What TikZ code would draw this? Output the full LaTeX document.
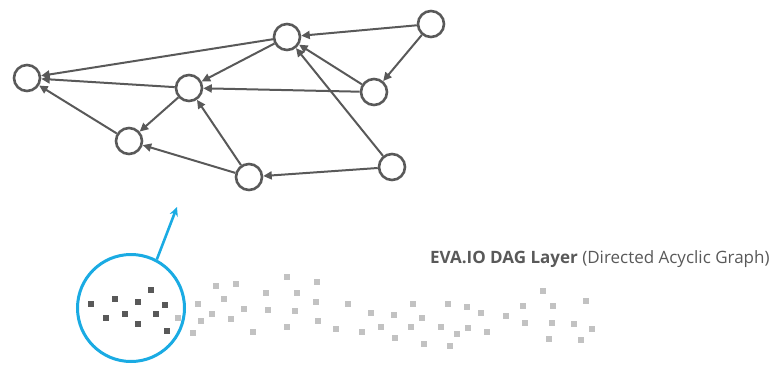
\documentclass[tikz,border=0pt]{standalone}
\usepackage{fontspec}
\setmainfont{Open Sans}
\usepackage{tikz}
\usetikzlibrary{arrows.meta,positioning}
\definecolor{daggray}{HTML}{595959}
\definecolor{dotgray}{HTML}{C2C2C2}
\definecolor{lensblue}{HTML}{1AABE3}

\begin{document}
\begin{tikzpicture}[x=1pt,y=-1pt]
\tikzstyle{vertex}=[draw=daggray, circle, line width=2.6pt, minimum size=26pt, inner sep=0pt]
\tikzstyle{edge}=[draw=daggray, line width=2pt, -{Triangle[length=8.5pt,width=8pt]}]
\tikzstyle{lens}=[draw=lensblue, circle, line width=3pt, minimum size=107pt, inner sep=0pt]
\useasboundingbox (0,0) rectangle (777,365);
% DAG
\node [vertex] (v1) at (27,78) {};
\node [vertex] (v2) at (287,37) {};
\node [vertex] (v3) at (431,24) {};
\node [vertex] (v4) at (189,88) {};
\node [vertex] (v5) at (374,92) {};
\node [vertex] (v6) at (129,141) {};
\node [vertex] (v7) at (249,177) {};
\node [vertex] (v8) at (392,167) {};
\draw [edge] (v2) -- (v1);
\draw [edge] (v3) -- (v2);
\draw [edge] (v3) -- (v5);
\draw [edge] (v2) -- (v4);
\draw [edge] (v4) -- (v1);
\draw [edge] (v5) -- (v4);
\draw [edge] (v5) -- (v2);
\draw [edge] (v8) -- (v2);
\draw [edge] (v4) -- (v6);
\draw [edge] (v6) -- (v1);
\draw [edge] (v7) -- (v6);
\draw [edge] (v7) -- (v4);
\draw [edge] (v8) -- (v7);
% scattered blocks
\foreach \x/\y in {178/318,198/304,216/286,236/284,224/299,212/314,201/321,193/333,231/319,244/309,
  253/332,266/293,268/310,287/277,297/293,295/311,287/327,317/282,316/302,318/321,
  348/304,336/329,371/313,362/332,394/315,381/327,395/338,413/304,422/318,411/327,
  424/344,448/304,467/307,481/313,441/327,468/328,457/334,450/346,487/332,506/316,
  523/306,525/323,543/291,553/306,552/323,549/339,574/324,581/340,586/301,592/329}
  \fill [dotgray] (\x-3,\y-3) rectangle (\x+3,\y+3);
\foreach \x/\y in {91/304,115/299,151/290,138/302,165/305,106/318,125/314,156/314,138/324,167/331}
  \fill [daggray] (\x-3,\y-3) rectangle (\x+3,\y+3);
\node [lens] (lens) at (131,308) {};
\coordinate (tip) at (177,207);
\draw [draw=lensblue, line width=2.6pt, -{Stealth[length=9pt,width=8.5pt]}] (lens.62) -- (tip);
% caption
\node [anchor=base west, text=daggray, inner sep=0pt, font=\fontsize{17}{20}\selectfont] (caption) at (430,263.5)
  {\textbf{EVA.IO DAG Layer} (Directed Acyclic Graph)};
\end{tikzpicture}
\end{document}
